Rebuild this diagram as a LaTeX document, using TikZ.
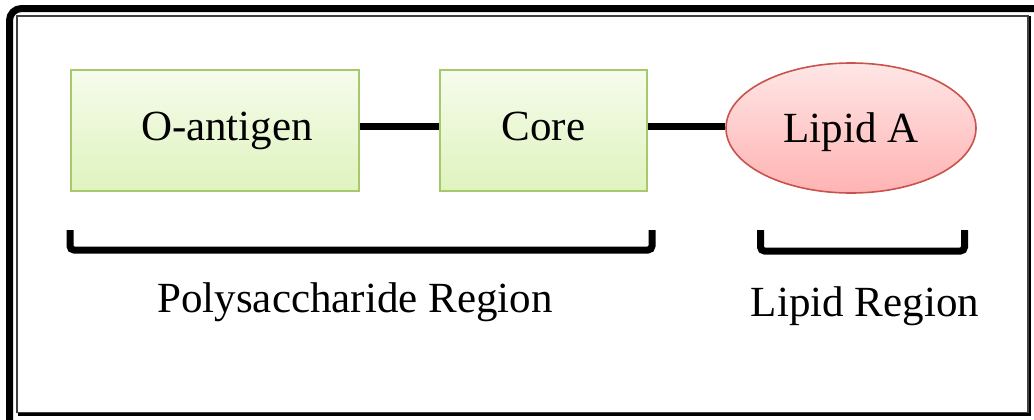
\documentclass[tikz,border=0pt]{standalone}
\usepackage{fontspec}
\setmainfont{Liberation Serif}
\usepackage{tikz}
\usetikzlibrary{shapes.geometric}

\definecolor{boxtop}{HTML}{F6FCEC}
\definecolor{boxbot}{HTML}{DFF3BE}
\definecolor{boxline}{HTML}{A6C96C}
\definecolor{liptop}{HTML}{FFE6E6}
\definecolor{lipbot}{HTML}{FFB3B3}
\definecolor{lipline}{HTML}{C9524C}

\begin{document}
\begin{tikzpicture}[x=0.5pt,y=-0.5pt,
  font=\fontsize{21.5}{25}\selectfont,
  part/.style={draw=boxline, line width=0.8pt, top color=boxtop, bottom color=boxbot,
    minimum height=60.5pt, text height=14pt, text depth=4.5pt},
  lipid/.style={ellipse, draw=lipline, line width=0.8pt, top color=liptop, bottom color=lipbot,
    inner sep=0pt, minimum width=125pt, minimum height=65pt, text height=14pt, text depth=0pt},
  link/.style={line width=3.3pt},
  brace/.style={line width=3.5pt, rounded corners=2pt}]
\useasboundingbox (0,0) rectangle (1034,419);
\begin{scope}
\clip (0,0) rectangle (1034,419);
\draw[line width=3.5pt, rounded corners=6pt] (9.5,440) -- (9.5,8.5) -- (1050,8.5);
\draw[line width=0.75pt, black!75] (17,16) rectangle (1028,412.5);
\draw[line width=1.4pt] (17.5,414.5) -- (1030,414.5) -- (1030,16);
\end{scope}

\node[part, minimum width=144pt] (oant) at (215,130.5) {};
\node (oanttext) at ([xshift=6pt]oant.center) [text height=14pt, text depth=4.5pt] {O-antigen};
\node[part, minimum width=103.5pt] (core) at (543.5,130.5) {Core};
\node[lipid] (lipa) at (851,128) {Lipid A};

\draw[link] ([yshift=2pt]oant.east) -- ([yshift=2pt]core.west);
\draw[link] ([yshift=2pt]core.east) -- ([yshift=2pt]core.east -| lipa.west);

\draw[brace] (70,230) -- (70,250) -- (652,250) -- (652,230);
\draw[brace] (760.5,230) -- (760.5,251) -- (964.5,251) -- (964.5,230);

\node[anchor=base] (polyreg) at (355,312) {Polysaccharide Region};
\node[anchor=base] (lipreg) at (865,316) {Lipid Region};
\end{tikzpicture}
\end{document}
